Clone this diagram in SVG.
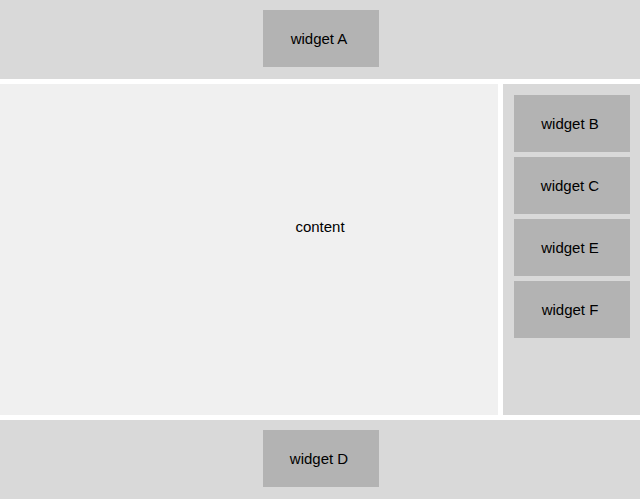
<svg xmlns="http://www.w3.org/2000/svg" width="640" height="499" viewBox="0 0 640 499">
<style>
.band{fill:#d9d9d9}
.content{fill:#f0f0f0}
.w{fill:#b3b3b3}
text{font-family:"Liberation Sans",Arial,sans-serif;font-size:15px;fill:#000;text-anchor:middle}
</style>
<rect width="640" height="499" fill="#ffffff"/>
<g id="header"><rect class="band" x="0" y="0" width="640" height="79"/></g>
<g id="content"><rect class="content" x="0" y="84" width="498" height="331"/><text x="320" y="232">content</text></g>
<g id="sidebar"><rect class="band" x="503" y="84" width="137" height="331"/></g>
<g id="footer"><rect class="band" x="0" y="420" width="640" height="79"/></g>
<g id="widgetA"><rect class="w" x="263" y="10" width="116" height="57"/><text x="319" y="44">widget A</text></g>
<g id="widgetB"><rect class="w" x="514" y="95" width="116" height="57"/><text x="570" y="129">widget B</text></g>
<g id="widgetC"><rect class="w" x="514" y="157" width="116" height="57"/><text x="570" y="191">widget C</text></g>
<g id="widgetE"><rect class="w" x="514" y="219" width="116" height="57"/><text x="570" y="253">widget E</text></g>
<g id="widgetF"><rect class="w" x="514" y="281" width="116" height="57"/><text x="570" y="315">widget F</text></g>
<g id="widgetD"><rect class="w" x="263" y="430" width="116" height="57"/><text x="319" y="464">widget D</text></g>
<g id="connectors"></g>
</svg>
